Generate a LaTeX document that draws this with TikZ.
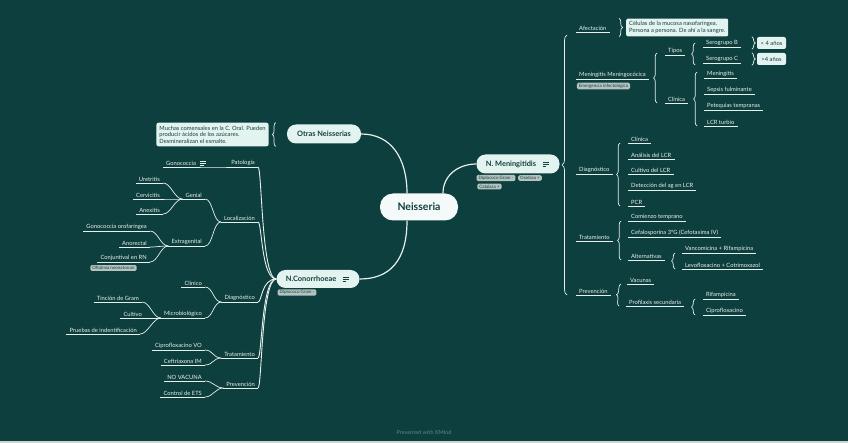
\documentclass[tikz,border=0pt]{standalone}
\usepackage{fontspec}
\setmainfont{Lato}
\usetikzlibrary{decorations.pathreplacing}
\definecolor{bgteal}{HTML}{0C3F3D}
\definecolor{mint}{HTML}{E3F3F0}
\definecolor{ink}{HTML}{133F3D}
\definecolor{twig}{HTML}{E8EFEE}
\definecolor{chipgray}{HTML}{B5C3C0}
\definecolor{footgray}{HTML}{4A7774}
\definecolor{stripgray}{HTML}{C9D5D3}
\newcommand{\noteicon}[2]{\draw[#2,line width=.6pt] (#1) ++(0,-2) -- ++(6,0) ++(-6,2) -- ++(6,0) ++(-6,2) -- ++(3.5,0);}
\tikzset{
  twig/.style={draw=twig,line width=.7pt},
  limb/.style={draw=twig,line width=1.2pt},
  leaf/.style={text=twig,font=\fontsize{5.8}{6.2}\selectfont,inner xsep=3pt,inner ysep=1.6pt},
  hub/.style={fill=mint,text=ink,rounded corners=9pt,font=\fontsize{7.4}{8.5}\selectfont\bfseries,minimum height=19pt,inner xsep=6pt},
  chip/.style={fill=chipgray,text=ink,rounded corners=1.5pt,font=\fontsize{4.5}{5}\selectfont,inner xsep=2pt,inner ysep=1.2pt},
  memo/.style={fill=mint,text=ink,rounded corners=2pt,font=\fontsize{5.8}{6.6}\selectfont,align=left,inner sep=3pt},
  brc/.style={draw=twig,line width=.7pt,decorate,decoration={brace,amplitude=3.5pt}},
  sway/.style={to path={.. controls +(-8,0) and +(8,0) .. (\tikztotarget)}},
  trunk/.style={to path={.. controls +(-15,0) and +(4,0) .. (\tikztotarget)}},
}
\begin{document}
\begin{tikzpicture}[x=1pt,y=-1pt]
\useasboundingbox (0,0) rectangle (848,443);
\fill[bgteal] (0,0) rectangle (848,443);
\fill[stripgray] (0,441) rectangle (848,443);

% central topic and main branches
\node[hub,font=\fontsize{10.5}{12}\selectfont\bfseries,fill=white!60!mint,minimum width=78pt,minimum height=27pt,rounded corners=13pt] (neis) at (419,207) {Neisseria};
\node[hub,minimum width=74pt] (otr) at (324,134) {Otras Neisserias};
\node[hub,minimum width=83pt] (men) at (518,164) {N. Meningitidis\rule{14pt}{0pt}};
\node[hub,minimum width=83pt,minimum height=18pt] (conn) at (318,279) {N.Conorrhoeae\rule{14pt}{0pt}};
\noteicon{[xshift=-17]men.east}{ink}
\noteicon{[xshift=-17]conn.east}{ink}
\draw[limb] ([xshift=-12]neis.north) .. controls +(0,-35) and +(30,0) .. (otr.east);
\draw[limb] ([xshift=24]neis.north) .. controls +(0,-18) and +(-18,0) .. (men.west);
\draw[limb] ([xshift=-12]neis.south) .. controls +(0,40) and +(30,0) .. (conn.east);

\node[chip] (dg1) at (496,178) {Diplococo Gram -};
\node[chip] (oxi) at (530,178) {Oxidasa +};
\node[chip] (cat) at (489.5,186.5) {Catalasa +};
\node[chip] (dg2) at (297,292.5) {Diplococo Gram -};

% otras neisserias
\node[memo] (otrmemo) at (212.5,134.5) {Muchas comensales en la C. Oral. Pueden\\producir ácidos de los azúcares.\\Desmineralizan el esmalte.};
\draw[brc] ([xshift=7]otrmemo.south east) -- ([xshift=7]otrmemo.north east);

% N. meningitidis
\node[leaf,anchor=south west] (afe) at (576,32) {Afectación};
\node[memo,anchor=west] (afememo) at (626,27.5) {Células de la mucosa nasofaríngea.\\Persona a persona. De ahí a la sangre.};
\node[leaf,anchor=south west] (mmen) at (576,79) {Meningitis Meningocócica};
\node[chip] (emer) at (603.5,86) {Emergencia infectológica};
\node[leaf,anchor=south west] (tip) at (665,55) {Tipos};
\node[leaf,anchor=south west] (sgb) at (703,47) {Serogrupo B};
\node[leaf,anchor=south west] (sgc) at (703,63) {Serogrupo C};
\node[memo,minimum width=29pt,minimum height=12pt,inner sep=1pt] (age1) at (771.5,43) {< 4 años};
\node[memo,minimum width=29pt,minimum height=12pt,inner sep=1pt] (age2) at (771.5,59) {>4 años};
\node[leaf,anchor=south west] (cli1) at (665,103) {Clínica};
\node[leaf,anchor=south west] (mng) at (704,78) {Meningitis};
\node[leaf,anchor=south west] (sep) at (704,94) {Sepsis fulminante};
\node[leaf,anchor=south west] (pet) at (704,110) {Petequias tempranas};
\node[leaf,anchor=south west] (lcr) at (704,126) {LCR turbio};
\node[leaf,anchor=south west] (dia1) at (576,174) {Diagnóstico};
\node[leaf,anchor=south west] (cli2) at (628,143) {Clínica};
\node[leaf,anchor=south west] (ana) at (628,159) {Análisis del LCR};
\node[leaf,anchor=south west] (cul1) at (628,174) {Cultivo del LCR};
\node[leaf,anchor=south west] (det) at (628,190) {Detección del ag en LCR};
\node[leaf,anchor=south west] (pcr) at (628,206) {PCR};
\node[leaf,anchor=south west] (tra1) at (576,241) {Tratamiento};
\node[leaf,anchor=south west] (com) at (628,221) {Comienzo temprano};
\node[leaf,anchor=south west] (cef1) at (628,237) {Cefalosporina 3ºG (Cefotaxima IV)};
\node[leaf,anchor=south west] (alt) at (628,260) {Alternativas};
\node[leaf,anchor=south west] (van) at (682,253) {Vancomicina + Rifampicina};
\node[leaf,anchor=south west] (lev) at (682,269) {Levofloxacino + Cotrimoxazol};
\node[leaf,anchor=south west] (pre1) at (576,295) {Prevención};
\node[leaf,anchor=south west] (vac) at (627,284) {Vacunas};
\node[leaf,anchor=south west] (pro) at (626,306) {Profilaxis secundaria};
\node[leaf,anchor=south west] (rif) at (703,299) {Rifampicina};
\node[leaf,anchor=south west] (cip1) at (703,315) {Ciprofloxacino};

\draw[brc,decoration={amplitude=5pt}] ([xshift=-9]pre1.south west) -- ([xshift=-9,yshift=-3]afe.south west);
\draw[brc] ([xshift=-7]afememo.north west) -- ([xshift=-7]afememo.south west);
\draw[brc] ([xshift=-8]cli1.south west) -- ([xshift=-8,yshift=2]tip.south west);
\draw[brc] ([xshift=-8,yshift=-2]sgc.south west) -- ([xshift=-8,yshift=4]sgb.south west);
\draw[brc] ([xshift=-7]lcr.south west) -- ([xshift=-7,yshift=6]mng.south west);
\draw[brc] ([xshift=-5]age1.north west) -- ([xshift=-5]age1.south west);
\draw[brc] ([xshift=-5]age2.north west) -- ([xshift=-5]age2.south west);
\draw[brc] ([xshift=-8]pcr.south west) -- ([xshift=-8]cli2.south west);
\draw[brc] ([xshift=-7]alt.south west) -- ([xshift=-7]com.south west);
\draw[brc] ([xshift=-7]lev.south west) -- ([xshift=-7]van.south west);
\draw[brc] ([xshift=-7]pro.south west) -- ([xshift=-6]vac.south west);
\draw[brc] ([xshift=-8]cip1.south west) -- ([xshift=-8]rif.south west);

% N. gonorrhoeae
\node[leaf,anchor=south east] (pat) at (258,167) {Patología};
\node[leaf,anchor=south west] (gon) at (163,167) {Gonococcia};
\noteicon{[xshift=1]gon.east}{twig}
\node[leaf,anchor=south east] (loc) at (258,222) {Localización};
\node[leaf,anchor=south east] (gen) at (205,199) {Genial};
\node[leaf,anchor=south east] (ure) at (163,183) {Uretritis};
\node[leaf,anchor=south east] (cer) at (163,199) {Cervicitis};
\node[leaf,anchor=south east] (ane) at (163,214) {Anexitis};
\node[leaf,anchor=south east] (ext) at (205,246) {Extragenital};
\node[leaf,anchor=south east] (oro) at (150,231) {Gonococcia orofaríngea};
\node[leaf,anchor=south east] (ano) at (150,247) {Anorectal};
\node[leaf,anchor=south east] (con1) at (150,262) {Conjuntival en RN};
\node[chip] (oft) at (113.5,268) {Oftalmía neonatorum};
\node[leaf,anchor=south east] (dia2) at (258,302) {Diagnóstico};
\node[leaf,anchor=south east] (clo) at (205,287) {Clínico};
\node[leaf,anchor=south east] (mic) at (205,318) {Microbiológico};
\node[leaf,anchor=south east] (tin) at (142,302) {Tinción de Gram};
\node[leaf,anchor=south east] (cul2) at (145,318) {Cultivo};
\node[leaf,anchor=south east] (pru) at (140,334) {Pruebas de indentificación};
\node[leaf,anchor=south east] (tra2) at (258,358) {Tratamiento};
\node[leaf,anchor=south east] (cip2) at (205,350) {Ciprofloxacino VO};
\node[leaf,anchor=south east] (cef2) at (205,365) {Ceftriaxona IM};
\node[leaf,anchor=south east] (pre2) at (258,388) {Prevención};
\node[leaf,anchor=south east] (nov) at (205,381) {NO VACUNA};
\node[leaf,anchor=south east] (ets) at (205,397) {Control de ETS};

\foreach \t in {pat,loc,dia2,tra2,pre2}
  \draw[twig,line width=.9pt] (conn.west) to[trunk] (\t.south east);
\draw[twig] (pat.south west) to[sway] (gon.south east);
\foreach \t in {gen,ext} \draw[twig] (loc.south west) to[sway] (\t.south east);
\foreach \t in {ure,cer,ane} \draw[twig] (gen.south west) to[sway] (\t.south east);
\foreach \t in {oro,ano,con1} \draw[twig] (ext.south west) to[sway] (\t.south east);
\foreach \t in {clo,mic} \draw[twig] (dia2.south west) to[sway] (\t.south east);
\foreach \t in {tin,cul2,pru} \draw[twig] (mic.south west) to[sway] (\t.south east);
\foreach \t in {cip2,cef2} \draw[twig] (tra2.south west) to[sway] (\t.south east);
\foreach \t in {nov,ets} \draw[twig] (pre2.south west) to[sway] (\t.south east);

% underlines
\foreach \n in {afe,mmen,tip,sgb,sgc,cli1,mng,sep,pet,lcr,dia1,cli2,ana,cul1,det,pcr,tra1,com,cef1,alt,van,lev,pre1,vac,pro,rif,cip1,pat,gon,loc,gen,ure,cer,ane,ext,oro,ano,con1,dia2,clo,mic,tin,cul2,pru,tra2,cip2,cef2,pre2,nov,ets}
  \draw[twig] (\n.south west) -- (\n.south east);

\node[text=footgray,font=\fontsize{5.5}{6}\selectfont\bfseries] (foot) at (424,432) {Presented with XMind};
\end{tikzpicture}
\end{document}
